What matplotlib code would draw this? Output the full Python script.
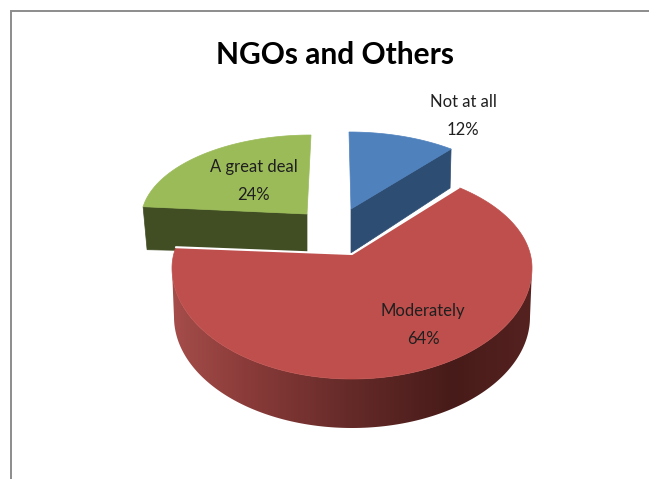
import numpy as np
import matplotlib
matplotlib.use("Agg")
import matplotlib.pyplot as plt
from matplotlib.colors import LinearSegmentedColormap
from matplotlib.patches import Polygon

title = "NGOs and Others"
categories = ["Not at all", "Moderately", "A great deal"]
values = [12, 64, 24]

W, H = 649, 479
FONT = "Lato"
styles = {
    "Not at all": dict(top="#4F81BD", side="#2E4D72", centre=(349, 217), rx=170, ry_back=85, ry_front=85,
                       apex=(351, 209), warp=(0, -6.3), apex_drop=(0, 44), corner_drop=(-1, 39), corner="end",
                       label=(463, 116)),
    "Moderately": dict(top="#BE4F4C", centre=(352, 268), rx=180, ry_back=100, ry_front=111,
                       apex=(352, 254), warp=(-6.8, 8.4), label=(423, 325)),
    "A great deal": dict(top="#9BBB59", side="#414E24", centre=(311, 220), rx=170, ry_back=85, ry_front=85,
                         apex=(307, 214), warp=(5.4, 0), apex_drop=(0, 39), corner_drop=(4, 43), corner="start",
                         label=(254, 181)),
}
DEPTH = 49


def arc(s, a0, a1, n=160, dy=0, drx=0):
    t = np.radians(np.linspace(a0, a1, n))
    c = np.cos(t)
    ry = np.where(c > 0, s["ry_back"], s["ry_front"])
    return np.column_stack([s["centre"][0] + (s["rx"] + drx) * np.sin(t), s["centre"][1] + dy - ry * c])


fig = plt.figure(figsize=(W / 100, H / 100), dpi=100)
ax = fig.add_axes([0, 0, 1, 1])
ax.axis("off")

# chart frame
ax.plot([10.5, 10.5, W], [H, 11, 11], color="#8C8C8C", lw=1.4, solid_joinstyle="miter", zorder=1)

edges = np.cumsum([0] + values) * 3.6
geom = {}
for cat, a0, a1 in zip(categories, edges[:-1], edges[1:]):
    s = styles[cat]
    geom[cat] = (a0 + s["warp"][0], a1 + s["warp"][1])

# Back slices: cut faces then tops
for cat in ["A great deal", "Not at all"]:
    s = styles[cat]
    a0, a1 = geom[cat]
    pts = arc(s, a0, a1)
    corner = pts[-1] if s["corner"] == "end" else pts[0]
    ap = np.array(s["apex"], float)
    face = [ap, corner, corner + s["corner_drop"], ap + s["apex_drop"]]
    ax.add_patch(Polygon(face, closed=True, fc=s["side"], ec=s["side"], lw=0.5, zorder=2))
    ax.add_patch(Polygon(np.vstack([ap, pts]), closed=True, fc=s["top"], ec=s["top"], lw=0.5, zorder=3))

# Red slice: front wall with gradient, top and white cut edges
s = styles["Moderately"]
a0, a1 = geom["Moderately"]
upper = arc(s, 90, 270)
lower = arc(s, 270, 90, dy=DEPTH, drx=-2)
wall = Polygon(np.vstack([upper, lower]), closed=True, fc="none", ec="none", transform=ax.transData)
ax.add_patch(wall)
stops = [(0.0, "#A54D4A"), (0.2, "#8B3C3A"), (0.5, "#642A28"), (0.78, "#471B19"), (1.0, "#552220")]
cmap = LinearSegmentedColormap.from_list("wall", stops)
im = ax.imshow(np.linspace(0, 1, 256)[None, :], cmap=cmap, aspect="auto", zorder=4,
               extent=(s["centre"][0] - s["rx"], s["centre"][0] + s["rx"], H, 0))
im.set_clip_path(wall)

pts = arc(s, a0, a1, n=300)
ap = np.array(s["apex"], float)
ax.add_patch(Polygon(np.vstack([ap, pts]), closed=True, fc=s["top"], ec=s["top"], lw=0.5, zorder=5))
ax.plot([pts[0, 0], ap[0], pts[-1, 0]], [pts[0, 1], ap[1], pts[-1, 1]], color="white", lw=1.5, zorder=6,
        solid_capstyle="round")

for cat, val in zip(categories, values):
    x, y = styles[cat]["label"]
    ax.text(x, y, f"{cat}\n{val}%", ha="center", va="center", family=FONT, fontsize=12,
            color="#1F1F1F", linespacing=1.85, zorder=7)

ax.text(335.5, 55, title, ha="center", va="center", family=FONT, fontweight="bold", fontsize=21.5, color="black", zorder=7)

ax.set_xlim(0, W)
ax.set_ylim(H, 0)
fig.savefig("out.png", dpi=100, facecolor="white")
